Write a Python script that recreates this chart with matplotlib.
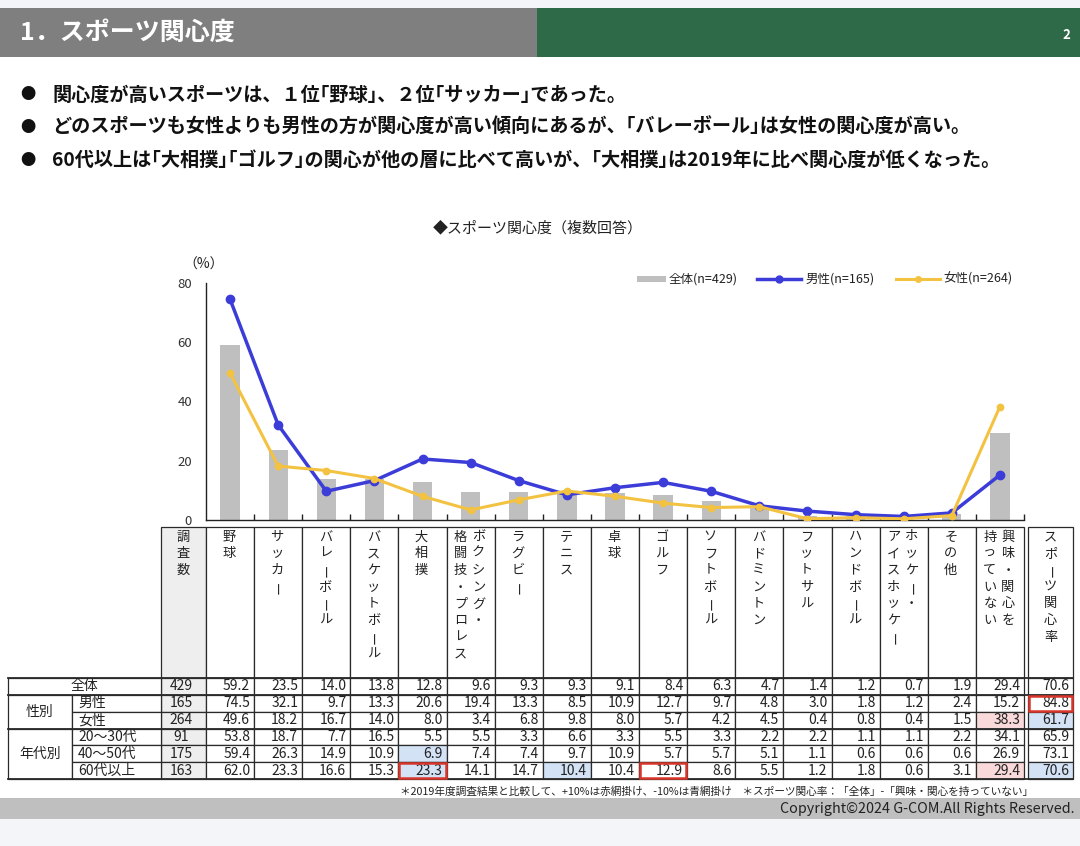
import matplotlib
matplotlib.use("Agg")
import matplotlib.pyplot as plt
from matplotlib.patches import Rectangle
from matplotlib.lines import Line2D
import numpy as np

plt.rcParams['font.family'] = ['Noto Sans CJK JP', 'DejaVu Sans']

# ---------------- data ----------------
categories = ["野球", "サッカー", "バレーボール", "バスケットボール", "大相撲",
              "ボクシング・格闘技・プロレス", "ラグビー", "テニス", "卓球", "ゴルフ",
              "ソフトボール", "バドミントン", "フットサル", "ハンドボール",
              "アイスホッケー・ホッケー", "その他", "興味・関心を持っていない"]
# vertical header columns (right column first)
header_columns = [["野球"], ["サッカー"], ["バレーボール"], ["バスケットボール"], ["大相撲"],
                  ["ボクシング・", "格闘技・プロレス"], ["ラグビー"], ["テニス"], ["卓球"],
                  ["ゴルフ"], ["ソフトボール"], ["バドミントン"], ["フットサル"],
                  ["ハンドボール"], ["ホッケー・", "アイスホッケー"], ["その他"],
                  ["興味・関心を", "持っていない"]]

row_labels = ["全体", "男性", "女性", "20～30代", "40～50代", "60代以上"]
group_labels = ["性別", "年代別"]
n_counts = [429, 165, 264, 91, 175, 163]

all_vals = [59.2, 23.5, 14.0, 13.8, 12.8, 9.6, 9.3, 9.3, 9.1, 8.4, 6.3, 4.7, 1.4, 1.2, 0.7, 1.9, 29.4]
male_vals = [74.5, 32.1, 9.7, 13.3, 20.6, 19.4, 13.3, 8.5, 10.9, 12.7, 9.7, 4.8, 3.0, 1.8, 1.2, 2.4, 15.2]
female_vals = [49.6, 18.2, 16.7, 14.0, 8.0, 3.4, 6.8, 9.8, 8.0, 5.7, 4.2, 4.5, 0.4, 0.8, 0.4, 1.5, 38.3]
age2030_vals = [53.8, 18.7, 7.7, 16.5, 5.5, 5.5, 3.3, 6.6, 3.3, 5.5, 3.3, 2.2, 2.2, 1.1, 1.1, 2.2, 34.1]
age4050_vals = [59.4, 26.3, 14.9, 10.9, 6.9, 7.4, 7.4, 9.7, 10.9, 5.7, 5.7, 5.1, 1.1, 0.6, 0.6, 0.6, 26.9]
age60_vals = [62.0, 23.3, 16.6, 15.3, 23.3, 14.1, 14.7, 10.4, 10.4, 12.9, 8.6, 5.5, 1.2, 1.8, 0.6, 3.1, 29.4]
interest_rate = [70.6, 84.8, 61.7, 65.9, 73.1, 70.6]

# highlights: (row, col) ; col 17 = interest rate column
blue_cells = [(4, 4), (5, 4), (5, 7), (2, 17), (5, 17)]
pink_cells = [(2, 16), (5, 16)]
red_boxes = [(5, 4), (5, 9), (1, 17)]

legend_labels = ["全体(n=429)", "男性(n=165)", "女性(n=264)"]
yticks = [0, 20, 40, 60, 80]

# ---------------- styles ----------------
W, H = 1080, 846
C_BAR = '#bfbfbf'
C_MALE = '#3c3cd8'
C_FEMALE = '#f3c241'
C_BLUE = '#d3e2f5'
C_PINK = '#f9d9d9'
C_RED = '#d8352b'
C_GRID = '#2a2a2a'
C_TXT = '#222222'

fig = plt.figure(figsize=(W / 100, H / 100), dpi=100)
fig.patch.set_facecolor('white')

bg = fig.add_axes([0, 0, 1, 1])
bg.set_xlim(0, W)
bg.set_ylim(H, 0)
bg.axis('off')
bg.set_zorder(0)

# header band
bg.add_patch(Rectangle((0, 0), W, 8, color='#f3f5f9', lw=0))
bg.add_patch(Rectangle((0, 8), 537, 49, color='#7f7f7f', lw=0))
bg.add_patch(Rectangle((537, 8), W - 537, 49, color='#2e6a47', lw=0))
bg.text(20, 33, "1．スポーツ関心度", color='white', fontsize=18, fontweight='bold',
        ha='left', va='center')
bg.text(1066, 35, "2", color='white', fontsize=9.5, fontweight='bold', ha='center', va='center')

bullets = ["関心度が高いスポーツは、１位｢野球｣、２位｢サッカー｣であった。",
           "どのスポーツも女性よりも男性の方が関心度が高い傾向にあるが、｢バレーボール｣は女性の関心度が高い。",
           "60代以上は｢大相撲｣｢ゴルフ｣の関心が他の層に比べて高いが、｢大相撲｣は2019年に比べ関心度が低くなった。"]
for i, b in enumerate(bullets):
    y = 95 + i * 32.5
    bg.text(28, y, "●", fontsize=11, ha='center', va='center', color='#111111')
    bg.text(52, y, b, fontsize=13.8, fontweight='bold', ha='left', va='center', color='#111111')

bg.text(538, 228, "◆スポーツ関心度（複数回答）", fontsize=10.8, ha='center', va='center', color=C_TXT)
bg.text(204, 265, "（%）", fontsize=10, ha='center', va='center', color=C_TXT)

# ---------------- chart ----------------
AX_L, AX_R, AX_T, AX_B = 206, 1024, 283, 520
ax = fig.add_axes([AX_L / W, 1 - AX_B / H, (AX_R - AX_L) / W, (AX_B - AX_T) / H])
ax.set_zorder(2)
ax.patch.set_alpha(0)
x = np.arange(len(categories))
ax.bar(x, all_vals, width=0.4, color=C_BAR, zorder=1)
ax.plot(x, male_vals, color=C_MALE, lw=2.5, marker='o', ms=6, zorder=3)
ax.plot(x, female_vals, color=C_FEMALE, lw=2.2, marker='o', ms=4.6, zorder=4)
ax.set_xlim(-0.5, len(categories) - 0.5)
ax.set_ylim(0, 80)
ax.set_yticks(yticks)
ax.set_yticklabels([str(v) for v in yticks], fontsize=9.5, color='#333333')
ax.tick_params(axis='y', length=0, pad=10)
ax.set_xticks(np.arange(len(categories)) + 0.5)
ax.set_xticklabels([])
ax.tick_params(axis='x', direction='in', length=4, width=1, color='#222222')
for s in ['top', 'right']:
    ax.spines[s].set_visible(False)
for s in ['left', 'bottom']:
    ax.spines[s].set_color('#222222')
    ax.spines[s].set_linewidth(1.0)

# legend (drawn at fixed place)
leg_y = 279
bg.add_patch(Rectangle((637, leg_y - 3), 29, 6, color=C_BAR, lw=0))
bg.text(669, leg_y, legend_labels[0], fontsize=9, ha='left', va='center', color=C_TXT)
bg.add_line(Line2D([757, 801], [leg_y, leg_y], color=C_MALE, lw=2.5))
bg.plot([779], [leg_y], marker='o', ms=5, color=C_MALE)
bg.text(805, leg_y, legend_labels[1], fontsize=9, ha='left', va='center', color=C_TXT)
bg.add_line(Line2D([896, 940], [leg_y, leg_y], color=C_FEMALE, lw=2.2))
bg.plot([918], [leg_y], marker='o', ms=4, color=C_FEMALE)
bg.text(943, leg_y, legend_labels[2], fontsize=9, ha='left', va='center', color=C_TXT)

# ---------------- table ----------------
cw = (AX_R - AX_L) / len(categories)
col_edges = [AX_L + k * cw for k in range(len(categories) + 1)]
N_L, N_R = 161, AX_L
R_L, R_R = 1028, 1073
HDR_T, HDR_B = 527, 678
RH = 16.85
rows = [all_vals, male_vals, female_vals, age2030_vals, age4050_vals, age60_vals]

def cell(x0, y0, w, h, fc='white', lw=0.9, z=1):
    bg.add_patch(Rectangle((x0, y0), w, h, facecolor=fc, edgecolor=C_GRID, lw=lw, zorder=z))

# header row
cell(N_L, HDR_T, N_R - N_L, HDR_B - HDR_T, fc='#eeeeee')
for c in range(len(categories)):
    cell(col_edges[c], HDR_T, cw, HDR_B - HDR_T)
cell(R_L, HDR_T, R_R - R_L, HDR_B - HDR_T)

def vtext(xc, s, y0=537, step=16.7, size=9.5):
    for i, ch in enumerate(s):
        if ch == 'ー':
            bg.text(xc + 3, y0 + i * step, ch, fontsize=size, ha='center', va='center',
                    rotation=90, rotation_mode='anchor', color=C_TXT, zorder=3)
        else:
            bg.text(xc, y0 + i * step, ch, fontsize=size, ha='center', va='center',
                    color=C_TXT, zorder=3)

vtext((N_L + N_R) / 2, "調査数")
for c, cols in enumerate(header_columns):
    xc = (col_edges[c] + col_edges[c + 1]) / 2 - 1
    if len(cols) == 1:
        vtext(xc, cols[0])
    else:
        vtext(xc + 9, cols[0])
        vtext(xc - 9, cols[1])
vtext((R_L + R_R) / 2, "スポーツ関心率")

# data rows
for r, vals in enumerate(rows):
    y0 = HDR_B + r * RH
    yc = y0 + RH / 2
    cell(N_L, y0, N_R - N_L, RH, fc='#eeeeee')
    bg.text((N_L + N_R) / 2 - 2, yc, str(n_counts[r]), fontsize=10, ha='center', va='center',
            color=C_TXT, zorder=3)
    for c, v in enumerate(vals):
        fc = C_BLUE if (r, c) in blue_cells else (C_PINK if (r, c) in pink_cells else 'white')
        cell(col_edges[c], y0, cw, RH, fc=fc)
        bg.text(col_edges[c + 1] - 4, yc, f"{v:.1f}", fontsize=10, ha='right', va='center',
                color=C_TXT, zorder=3)
    fc = C_BLUE if (r, 17) in blue_cells else (C_PINK if (r, 17) in pink_cells else 'white')
    cell(R_L, y0, R_R - R_L, RH, fc=fc)
    bg.text(R_R - 4, yc, f"{interest_rate[r]:.1f}", fontsize=10, ha='right', va='center',
            color=C_TXT, zorder=3)

# row label cells
G0, G1 = 8, 72
cell(G0, HDR_B, N_L - G0, RH)
bg.text((G0 + N_L) / 2, HDR_B + RH / 2, row_labels[0], fontsize=10, ha='center', va='center', color=C_TXT)
cell(G0, HDR_B + RH, G1 - G0, 2 * RH)
bg.text((G0 + G1) / 2, HDR_B + 2 * RH, group_labels[0], fontsize=10, ha='center', va='center', color=C_TXT)
cell(G0, HDR_B + 3 * RH, G1 - G0, 3 * RH)
bg.text((G0 + G1) / 2, HDR_B + 4.5 * RH, group_labels[1], fontsize=10, ha='center', va='center', color=C_TXT)
for r in range(1, 6):
    y0 = HDR_B + r * RH
    cell(G1, y0, N_L - G1, RH)
    bg.text(G1 + 6, y0 + RH / 2, row_labels[r], fontsize=10, ha='left', va='center', color=C_TXT)

# thicker outline lines
TB = HDR_B + 6 * RH
for yy in [HDR_B, HDR_B + RH, HDR_B + 3 * RH, TB]:
    bg.add_line(Line2D([G0, R_R], [yy, yy], color=C_GRID, lw=1.3, zorder=2))

# red boxes
for (r, c) in red_boxes:
    y0 = HDR_B + r * RH
    if c == 17:
        x0, w = R_L, R_R - R_L
    else:
        x0, w = col_edges[c], cw
    bg.add_patch(Rectangle((x0 + 1, y0 + 1), w - 2, RH - 2, fill=False, edgecolor=C_RED,
                           lw=1.8, zorder=5))

# footnote
bg.text(1033, 792, "＊2019年度調査結果と比較して、+10%は赤網掛け、-10%は青網掛け　＊スポーツ関心率：「全体」-「興味・関心を持っていない」",
        fontsize=7.7, ha='right', va='center', color=C_TXT)

# bottom band
bg.add_patch(Rectangle((0, 798), W, 21, color='#bfbfbf', lw=0))
bg.add_patch(Rectangle((0, 819), W, H - 819, color='#f3f5f9', lw=0))
bg.text(1075, 809, "Copyright©2024 G-COM.All Rights Reserved.", fontsize=10.3, ha='right',
        va='center', color='#222222')

fig.savefig("out.png", dpi=100)
